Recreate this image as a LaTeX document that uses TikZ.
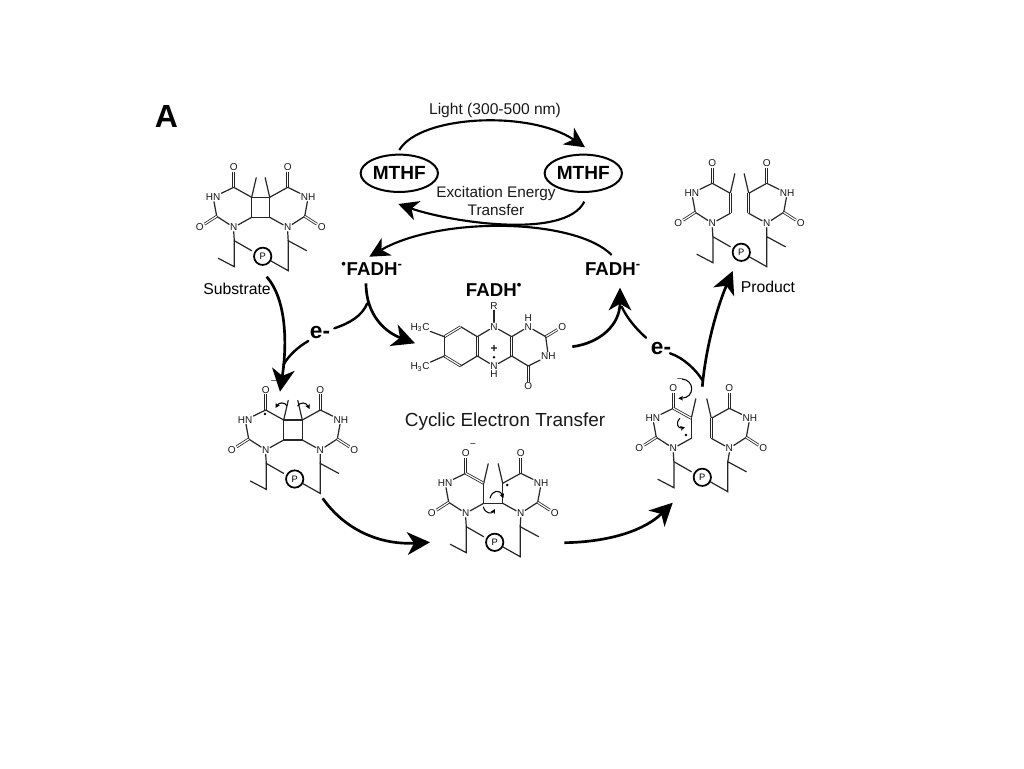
\documentclass[tikz,border=0pt]{standalone}
\usepackage{fontspec}
\setmainfont{Liberation Sans}
\usetikzlibrary{arrows.meta,shapes.geometric}
\tikzset{
  atom/.style={font=\fontsize{7.5}{8}\selectfont,inner sep=0.5pt,text=black!90},
  bond/.style={draw=black!85,line width=0.9pt,line cap=round},
  dblb/.style={draw=black!85,line width=0.6pt,double,double distance=0.9pt},
  cyc/.style={draw=black,line width=2pt,-{Stealth[length=17pt,width=17pt,inset=5pt]}},
  thin cyc/.style={draw=black,line width=1.6pt,-{Stealth[length=15pt,width=15pt,inset=4.5pt]}},
  plain cyc/.style={draw=black,line width=1.8pt},
  push/.style={draw=black,line width=0.8pt,-{Stealth[length=3.5pt,width=3.5pt,inset=1pt]}},
  mthf/.style={ellipse,draw=black,line width=1.5pt,minimum width=58pt,minimum height=28pt,inner sep=0pt,font=\fontsize{14.3}{16}\selectfont\bfseries},
  fadh/.style={font=\fontsize{14}{16}\selectfont\bfseries,inner sep=0pt},
  elec/.style={font=\fontsize{17}{18}\selectfont\bfseries,inner sep=0pt},
  lab/.style={font=\fontsize{11.7}{14}\selectfont,inner sep=0pt,text=black!90},
  captxt/.style={font=\fontsize{11.8}{13}\selectfont,inner sep=0pt},
  phos/.style={circle,draw=black,line width=1.3pt,minimum size=13pt,inner sep=0pt,font=\fontsize{7}{8}\selectfont},
  rad/.style={circle,fill=black,inner sep=0pt,minimum size=2pt},
  minussign/.style={font=\fontsize{7}{8}\selectfont,inner sep=0pt}
}
% half of a dimer: prefix, x and y of N1, side (1 or -1), NH label, style of C4-C5, style of C5-C6
\newcommand\halfring[7]{%
\begin{scope}[shift={(#2,#3)},x=#4*0.75pt]
\node[atom] (#1N) at (0,0) {N};
\node[atom] (#1OA) at (0,-60) {O};
\node[atom] (#1NH) at (-20.5,-30) {#5};
\node[atom] (#1OB) at (-34,0) {O};
\coordinate (#1CA) at (0,-40);
\coordinate (#1CB) at (-17,-11);
\coordinate (#1CC) at (18,-30);
\coordinate (#1CD) at (18,-10);
\coordinate (#1Me) at (22.5,-49.5);
\draw[bond] (#1N)--(#1CB);
\draw[bond] (#1CB)--(#1NH);
\draw[bond] (#1NH)--(#1CA);
\draw[bond] (#1N)--(#1CD);
\draw[bond] (#1CC)--(#1Me);
\draw[dblb] (#1CA)--(#1OA);
\draw[dblb] (#1CB)--(#1OB);
\path[#6] (#1CA)--(#1CC);
\path[#7] (#1CC)--(#1CD);
\end{scope}}
% sugar-phosphate linker: prefix, x, y of the left N
\newcommand\linker[3]{%
\begin{scope}[shift={(#2,#3)}]
\coordinate (#1a) at (0.6,13.4);
\coordinate (#1b) at (18,23.4);
\coordinate (#1c) at (0.6,39.4);
\coordinate (#1d) at (-15.4,31);
\node[phos] (#1P) at (29,29) {P};
\coordinate (#1e) at (54.5,43.4);
\coordinate (#1f) at (54.5,13.4);
\coordinate (#1g) at (73,23.4);
\draw[bond] (#1Ln) -- (#1a) -- (#1b);
\draw[bond] (#1a) -- (#1c) -- (#1d);
\draw[bond] (#1P) -- (#1e) -- (#1f) -- (#1g);
\draw[bond] (#1f) -- (#1Rn);
\end{scope}}
\begin{document}
\begin{tikzpicture}[x=0.75pt,y=-0.75pt]
\useasboundingbox[fill=white] (0,0) rectangle (1024,768);

\node[font=\fontsize{24}{26}\selectfont\bfseries,inner sep=0pt] (panel) at (166.5,116) {A};

% Substrate
\halfring{sa}{233.7}{227.3}{1}{HN}{bond}{bond}
\halfring{sb}{287.7}{227.3}{-1}{NH}{bond}{bond}
\draw[bond] (saCC)--(sbCC);
\draw[bond] (saCD)--(sbCD);
\coordinate (sLn) at (saN.south); \coordinate (sRn) at (sbN.south);
\linker{s}{233.7}{227.3}
\node[captxt] (subl) at (237,289) {Substrate};

% Product
\halfring{pa}{712.3}{223.3}{1}{HN}{bond}{dblb}
\halfring{pb}{766.7}{223.3}{-1}{NH}{bond}{dblb}
\coordinate (pLn) at (paN.south); \coordinate (pRn) at (pbN.south);
\linker{p}{712.3}{223.3}
\node[captxt] (prol) at (768,287) {Product};

% Lower left
\halfring{la}{265.7}{450}{1}{HN}{bond}{bond}
\halfring{lb}{320.3}{450}{-1}{NH}{bond}{bond}
\draw[bond] (laCC)--(lbCC);
\draw[bond] (laCD)--(lbCD);
\coordinate (lLn) at (laN.south); \coordinate (lRn) at (lbN.south);
\linker{l}{265.7}{450}
\node[rad] (lrad) at (265,414) {};
\node[minussign] (lmin) at (274,382) {–};
\draw[push] (287,406) .. controls (285,402) and (279,402) .. (275.5,408);
\draw[push] (297.5,406) .. controls (300,402) and (306,402) .. (309.5,409);

% Lower middle
\halfring{ma}{465.7}{513.3}{1}{HN}{dblb}{bond}
\halfring{mb}{520.7}{513.3}{-1}{NH}{bond}{bond}
\draw[bond,line width=1.2pt] (maCD)--(mbCD);
\coordinate (mLn) at (maN.south); \coordinate (mRn) at (mbN.south);
\linker{m}{465.7}{513.3}
\node[rad] (mrad) at (507.3,485) {};
\node[minussign] (mmin) at (473,445) {–};
\draw[push] (490,498.3) .. controls (492,490) and (500,489) .. (503.3,498.3);
\draw[push] (483.3,506.7) .. controls (485,514) and (492,514) .. (495,509);

% Lower right
\halfring{ra}{673.3}{448.3}{1}{HN}{dblb}{bond}
\halfring{rb}{729.3}{448.3}{-1}{NH}{bond}{dblb}
\coordinate (rLn) at (raN.south); \coordinate (rRn) at (rbN.south);
\linker{r}{673.3}{448.3}
\node[rad] (rrad) at (686,435) {};
\node[minussign] (rmin) at (680,380) {–};
\draw[push] (682,379) .. controls (695,380) and (695,398) .. (678.3,398.3);
\draw[push] (680,418.3) .. controls (675,423) and (678,429) .. (685,427.3);

% Flavin
\node[atom] (fR) at (494,306) {R};
\node[atom] (fNa) at (494,326.7) {N};
\node[atom] (fNb) at (528.3,326.7) {N};
\node[atom] (fHb) at (528.3,318.3) {H};
\node[atom] (fOa) at (562.3,326.7) {O};
\node[atom] (fNc) at (548.3,356) {NH};
\node[atom] (fOb) at (528.3,386) {O};
\node[atom] (fNd) at (494,366) {N};
\node[atom] (fHd) at (494,374.3) {H};
\node[atom] (fMa) at (420,327.5) {H\textsubscript{3}C};
\node[atom] (fMb) at (420,366.7) {H\textsubscript{3}C};
\node[atom,font=\fontsize{9}{9}\selectfont\bfseries] (fplus) at (494,349) {+};
\node[rad] (frad) at (494,357.3) {};
\coordinate (fa) at (545.7,336.7);
\coordinate (fb) at (528.3,366);
\coordinate (fc) at (511.7,356);
\coordinate (fd) at (511.7,336.7);
\coordinate (fe) at (477.3,356);
\coordinate (ff) at (477.3,336.7);
\coordinate (fg) at (460.7,326.7);
\coordinate (fh) at (444.3,336.7);
\coordinate (fi) at (444.3,356);
\coordinate (fj) at (460.7,366);
\draw[bond] (fR)--(fNa);
\draw[bond] (fNa)--(fd);
\draw[bond] (fNa)--(ff);
\draw[bond] (fd)--(fNb);
\draw[bond] (fNb)--(fa);
\draw[dblb] (fa)--(fOa);
\draw[bond] (fa)--(fNc);
\draw[bond] (fNc)--(fb);
\draw[dblb] (fb)--(fOb);
\draw[bond] (fb)--(fc);
\draw[dblb] (fc)--(fd);
\draw[bond] (fc)--(fNd);
\draw[bond] (fNd)--(fe);
\draw[dblb] (fe)--(ff);
\draw[bond] (ff)--(fg);
\draw[dblb] (fg)--(fh);
\draw[bond] (fh)--(fi);
\draw[dblb] (fi)--(fj);
\draw[bond] (fj)--(fe);
\draw[bond] (fh)--(fMa);
\draw[bond] (fi)--(fMb);

% Labels
\node[mthf] (mthfa) at (399.3,173.3) {MTHF};
\node[mthf] (mthfb) at (583.3,173.3) {MTHF};
\node[lab] (light) at (495,110.7) {Light (300-500 nm)};
\node[lab,align=center,font=\fontsize{11.5}{14.2}\selectfont] (excit) at (496,201) {Excitation Energy\\Transfer};
\node[fadh] (fadha) at (372,269.3) {\textsuperscript{\textbullet}FADH\textsuperscript{-}};
\node[fadh] (fadhb) at (613,269.3) {FADH\textsuperscript{-}};
\node[fadh] (fadhc) at (494,290) {FADH\textsuperscript{\textbullet}};
\node[font=\fontsize{14.2}{16}\selectfont,inner sep=0pt,text=black!90] (cyctr) at (505,422) {Cyclic Electron Transfer};
\node[elec] (ea) at (320,332.3) {e-};
\node[elec] (eb) at (661,348.5) {e-};

% Connector end points
\coordinate (lighta) at (399.3,150);
\coordinate (lightb) at (585,147.3);
\coordinate (exa) at (584.3,201.7);
\coordinate (exb) at (398.3,204);
\coordinate (fadhout) at (611.7,255);
\coordinate (fadhin) at (369.3,256.7);
\coordinate (subout) at (266.7,276.7);
\coordinate (subin) at (280,391.7);
\coordinate (fork) at (367.3,303.3);
\coordinate (flavin) at (415,343.3);
\coordinate (fadhstart) at (366,283.3);
\coordinate (eaend) at (283.3,365);
\coordinate (eastart) at (308.3,341);
\coordinate (eamid) at (334.3,328.3);
\coordinate (flout) at (572.3,346.7);
\coordinate (fadhtip) at (620,287.7);
\coordinate (ebstart) at (646,337.7);
\coordinate (ebmerge) at (621.7,306.7);
\coordinate (ebend) at (670,353.3);
\coordinate (ebfork) at (702.3,380);
\coordinate (prodstart) at (702.3,386.7);
\coordinate (prodtip) at (732.7,271);
\coordinate (bota) at (322.7,498.3);
\coordinate (botb) at (430,542.3);
\coordinate (botc) at (564.3,542.7);
\coordinate (botd) at (672.7,502.7);

% Connectors
\draw[thin cyc] (lighta) .. controls (420,115) and (530,110) .. (lightb);
\draw[thin cyc] (exa) .. controls (565,240) and (450,222) .. (exb);
\draw[thin cyc] (fadhout) .. controls (575,218) and (440,216) .. (fadhin);
\draw[cyc] (subout) .. controls (287,300) and (287,345) .. (subin);
\draw[cyc] (fadhstart) .. controls (366,315) and (385,332) .. (flavin);
\draw[plain cyc,line cap=round] (fork) .. controls (362,316) and (350,323) .. (eamid);
\draw[plain cyc,line cap=round] (eastart) .. controls (298,347) and (289,355) .. (eaend);
\draw[cyc] (flout) .. controls (600,343) and (620,325) .. (fadhtip);
\draw[plain cyc,line cap=round] (ebstart) .. controls (634,327) and (626,316) .. (ebmerge);
\draw[plain cyc,line cap=round] (ebend) .. controls (684,358) and (696,370) .. (ebfork);
\draw[cyc] (prodstart) .. controls (706,345) and (718,305) .. (prodtip);
\draw[cyc] (bota) .. controls (345,530) and (380,545) .. (botb);
\draw[cyc] (botc) .. controls (610,542) and (645,530) .. (botd);
\end{tikzpicture}
\end{document}
